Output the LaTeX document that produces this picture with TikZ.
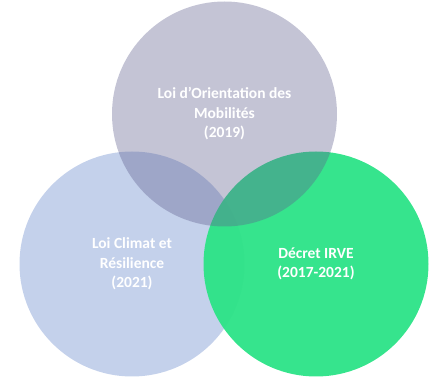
\documentclass[tikz,border=0pt]{standalone}
\usepackage{fontspec}
\setmainfont{Carlito}
\usepackage{xcolor}
\usepackage{tikz}
\usetikzlibrary{positioning}

\definecolor{climatblue}{HTML}{C4D1EB}
\definecolor{irvegreen}{HTML}{2EE388}
\definecolor{lomgray}{HTML}{5F5F8E}

\begin{document}
\begin{tikzpicture}[
    x=1pt, y=-1pt,
    law/.style={circle, minimum size=225pt, inner sep=0pt, align=center, text=white,
        font=\fontsize{15.5}{19.5}\selectfont\bfseries, text opacity=1},
    climat/.style={law, fill=climatblue},
    irve/.style={law, fill=irvegreen, fill opacity=0.96},
    mobilites/.style={law, fill=lomgray, fill opacity=0.37},
]

\useasboundingbox (0,0) rectangle (429,382);

% Circles
\node[climat] (climat) at (132,264) {Loi Climat et\\Résilience\\(2021)};
\node[irve] (irve) at (316,264) {Décret IRVE\\(2017-2021)};
\node[mobilites] (lom) at (224.5,114) {Loi d’Orientation des\\Mobilités\\(2019)};

\end{tikzpicture}
\end{document}
